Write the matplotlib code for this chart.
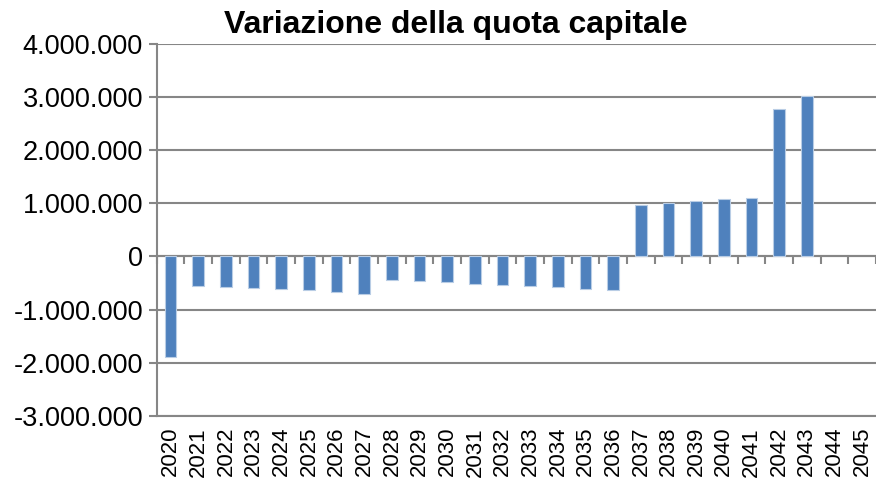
import numpy as np
import matplotlib
matplotlib.use("Agg")
import matplotlib.pyplot as plt
from matplotlib.ticker import FuncFormatter

plt.rcParams['font.family'] = ['Liberation Sans', 'DejaVu Sans']

# dati
anni = [str(a) for a in range(2020, 2046)]
variazione = [-1900000, -550000, -570000, -590000, -620000, -640000, -670000, -700000,
              -440000, -460000, -480000, -510000, -530000, -560000, -580000, -610000,
              -640000, 960000, 1000000, 1040000, 1075000, 1110000, 2770000, 3020000,
              0, 0]
yticks = [-3000000, -2000000, -1000000, 0, 1000000, 2000000, 3000000, 4000000]

grigio = "#868686"
blu = "#4F81BD"

fig = plt.figure(figsize=(8.76, 4.79), dpi=100)
ax = fig.add_axes([0.179, 0.132, 0.821, 0.776])

x = np.arange(len(anni))
bordi = [0.8 if v != 0 else 0 for v in variazione]
ax.bar(x, variazione, width=0.42, color=blu, edgecolor="#B9CDE5", linewidth=bordi, zorder=3)

ax.set_xlim(-0.5, len(anni) - 0.5)
ax.set_ylim(-3000000, 4000000)
ax.set_yticks(yticks)
ax.yaxis.set_major_formatter(FuncFormatter(lambda v, p: f"{int(v):,}".replace(",", ".")))
ax.tick_params(axis="y", labelsize=19.5, length=6, width=1.5, color=grigio, direction="out", pad=4)
ax.grid(axis="y", color=grigio, linewidth=1.5, zorder=1)

ax.set_xticks(x)
ax.set_xticklabels(anni, rotation=90)
ax.tick_params(axis="x", labelsize=16, length=0, pad=8)

for s in ["top", "right"]:
    ax.spines[s].set_visible(False)
ax.spines["left"].set_color(grigio)
ax.spines["left"].set_linewidth(1.5)
ax.spines["bottom"].set_color(grigio)
ax.spines["bottom"].set_linewidth(1.5)

# asse delle categorie sulla linea dello zero
sec = ax.secondary_xaxis(3 / 7)
sec.set_xticks(np.arange(len(anni) + 1) - 0.5)
sec.set_xticklabels([])
sec.tick_params(axis="x", length=6, width=1.5, color=grigio, direction="out")
sec.spines["bottom"].set_color(grigio)
sec.spines["bottom"].set_linewidth(1.5)

fig.text(0.52, 0.948, "Variazione della quota capitale", ha="center", va="center",
         fontsize=23, fontweight="bold")

fig.savefig("out.png", dpi=100)
